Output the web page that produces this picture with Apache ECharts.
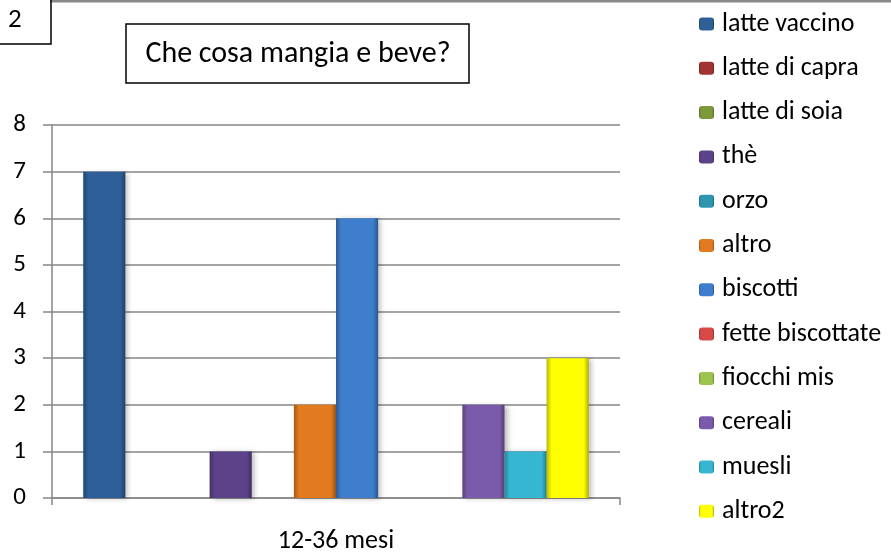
<!DOCTYPE html>
<html>
<head>
<meta charset="utf-8">
<script src="https://cdn.jsdelivr.net/npm/echarts@6/dist/echarts.min.js"></script>
<style>
  html, body { margin: 0; padding: 0; background: #fff; }
  #chart { width: 891px; height: 558px; }
</style>
</head>
<body>
<div id="chart"></div>
<script>
var categories = ['12-36 mesi'];
var seriesNames = ['latte vaccino','latte di capra','latte di soia','thè','orzo','altro',
                   'biscotti','fette biscottate','fiocchi mis','cereali','muesli','altro2'];
var seriesValues = [7, 0, 0, 1, 0, 2, 6, 0, 0, 2, 1, 3];
var seriesColors = ['#2e5f99','#a33333','#7d9a3a','#5c4289','#2e96b1','#e27a1f',
                    '#3f7ecc','#d84a48','#9cc44c','#7a5aab','#36b6d2','#ffff00'];
var yTicks = [0, 8, 1]; // min, max, interval

var FONT = 'Carlito, Lato, sans-serif';

function shade(hex, f) {
  var n = parseInt(hex.slice(1), 16);
  var r = Math.round(((n >> 16) & 255) * f), g = Math.round(((n >> 8) & 255) * f), b = Math.round((n & 255) * f);
  return 'rgb(' + r + ',' + g + ',' + b + ')';
}

var series = [];
for (var i = 0; i < seriesNames.length; i++) {
  var c = seriesColors[i];
  series.push({
    name: seriesNames[i],
    type: 'bar',
    barGap: '0%',
    barCategoryGap: '11%',
    data: [seriesValues[i]],
    itemStyle: {
      color: new echarts.graphic.LinearGradient(0, 0, 1, 0, [
        { offset: 0, color: shade(c, 0.72) },
        { offset: 0.12, color: c },
        { offset: 0.88, color: c },
        { offset: 1, color: shade(c, 0.68) }
      ]),
      shadowColor: 'rgba(0,0,0,0.25)',
      shadowBlur: 5,
      shadowOffsetX: 3,
      shadowOffsetY: 1
    }
  });
}

var chart = echarts.init(document.getElementById('chart'));
var option = {
  animation: false,
  backgroundColor: '#fff',
  grid: { left: 52, top: 125, width: 568, height: 373 },
  graphic: [
    { type: 'line', shape: { x1: 50, y1: 1, x2: 891, y2: 1 }, style: { stroke: '#888', lineWidth: 3 } },
    { type: 'polyline', shape: { points: [[51, 0], [51, 44], [0, 44]] }, style: { stroke: '#000', lineWidth: 1.5, fill: null } },
    { type: 'text', x: 8, y: 20, style: { text: '2', font: '27px ' + FONT, fill: '#000', verticalAlign: 'middle' } },
    { type: 'rect', shape: { x: 126, y: 24, width: 343, height: 59 }, style: { stroke: '#000', lineWidth: 1.5, fill: '#fff' } },
    { type: 'text', x: 298, y: 54, style: { text: 'Che cosa mangia e beve?', font: '30px ' + FONT, fill: '#000', align: 'center', verticalAlign: 'middle' } }
  ],
  legend: {
    orient: 'vertical',
    left: 699,
    top: 11,
    padding: 0,
    itemWidth: 15,
    itemHeight: 13,
    itemGap: 18.3,
    textStyle: { fontFamily: FONT, fontSize: 26, color: '#000', padding: [0, 0, 0, 3] },
    data: seriesNames
  },
  xAxis: {
    type: 'category',
    data: categories,
    axisLine: { lineStyle: { color: '#868686', width: 1.5 } },
    axisTick: { show: true, length: 7, lineStyle: { color: '#868686', width: 1.5 } },
    axisLabel: { fontFamily: FONT, fontSize: 26, color: '#000', margin: 30 }
  },
  yAxis: {
    type: 'value',
    min: yTicks[0],
    max: yTicks[1],
    interval: yTicks[2],
    axisLine: { show: true, lineStyle: { color: '#868686', width: 1.5 } },
    axisTick: { show: true, length: 9, lineStyle: { color: '#868686', width: 1.5 } },
    axisLabel: { fontFamily: FONT, fontSize: 25, color: '#000', margin: 26 },
    splitLine: { lineStyle: { color: '#868686', width: 1.5 } }
  },
  series: series
};
chart.setOption(option);
</script>
</body>
</html>
